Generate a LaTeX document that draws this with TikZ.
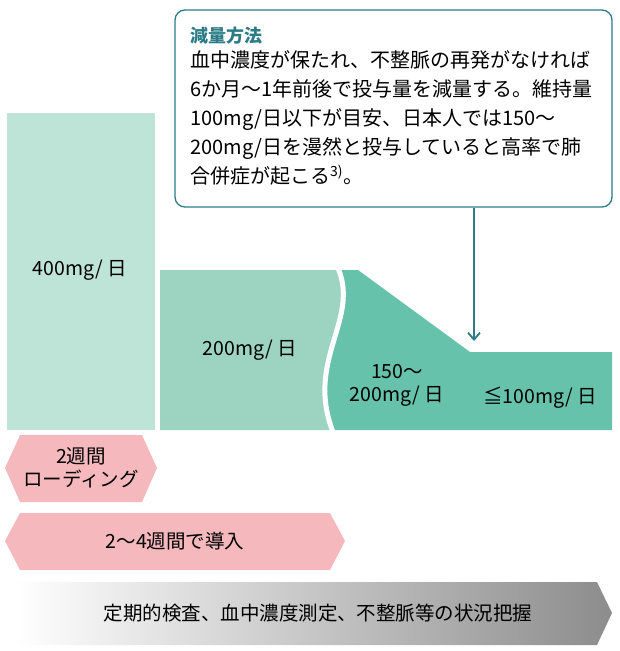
\documentclass[tikz,border=0pt]{standalone}
\usepackage{fontspec}
\setmainfont{Noto Sans CJK JP}
\usetikzlibrary{positioning,arrows.meta}
\definecolor{mintA}{HTML}{BEE4D8}
\definecolor{mintB}{HTML}{9DD3C1}
\definecolor{mintC}{HTML}{66C2AB}
\definecolor{teal}{HTML}{2B7C86}
\definecolor{pinkA}{HTML}{F5B9BD}
\tikzset{
  lbl/.style={font=\fontsize{19.5}{23}\selectfont, align=center, inner sep=0pt},
  boxtxt/.style={font=\fontsize{20}{29}\selectfont, align=left, inner sep=0pt, anchor=north west}
}
\begin{document}
\begin{tikzpicture}[x=1pt,y=-1pt]
\useasboundingbox (0,0) rectangle (620,651);
% dose blocks
\fill[mintA] (7,113) rectangle (155,430);
\fill[mintB] (160,270) -- (338,270) .. controls (360,320) and (305,360) .. (333,430) -- (160,430) -- cycle;
\fill[mintC] (338,270) -- (358,270) -- (470,352) -- (612,352) -- (612,430) -- (333,430) .. controls (305,360) and (360,320) .. (338,270) -- cycle;
\draw[white, line width=5pt] (338,268) .. controls (360,320) and (305,360) .. (333,432);
\node (d400) [lbl] at (80,270) {400mg/ 日};
\node (d200) [lbl] at (250,350) {200mg/ 日};
\node (d150) [lbl] at (397,385) {150～\\200mg/ 日};
\node (d100) [lbl] at (540,398) {≦100mg/ 日};
% callout
\node (box) [draw=teal, line width=1.3pt, rounded corners=10pt, fill=white, minimum width=437pt, minimum height=197pt] at (393.5,108.5) {};
\node (ttl) [boxtxt, font=\fontsize{18}{20}\selectfont\bfseries, text=teal] at (190,27) {減量方法};
\node (body) [boxtxt, below=6pt of ttl.south west, anchor=north west] {血中濃度が保たれ、不整脈の再発がなければ\\6か月～1年前後で投与量を減量する。維持量\\100mg/日以下が目安、日本人では150～\\200mg/日を漫然と投与していると高率で肺\\合併症が起こる\textsuperscript{3)}。};
\coordinate (tip) at (474,341);
\draw[teal, line width=1.8pt, -{Straight Barb[length=7pt,width=12pt]}] (box.south -| tip) -- (tip);
% pink arrows
\fill[pinkA] (5,468) -- (20,435) -- (142,435) -- (157,468) -- (142,502) -- (20,502) -- cycle;
\node (load) [lbl] at (81,468) {2週間\\ローディング};
\fill[pinkA] (5,541) -- (20,513) -- (330,513) -- (345,541) -- (330,570) -- (20,570) -- cycle;
\node (intro) [lbl] at (175,541) {2～4週間で導入};
% gray arrow
\shade[left color=white, right color=black!45] (15,582) -- (597,582) -- (612,613) -- (597,645) -- (15,645) -- cycle;
\node (chk) [lbl] at (318,613) {定期的検査、血中濃度測定、不整脈等の状況把握};
\end{tikzpicture}
\end{document}
